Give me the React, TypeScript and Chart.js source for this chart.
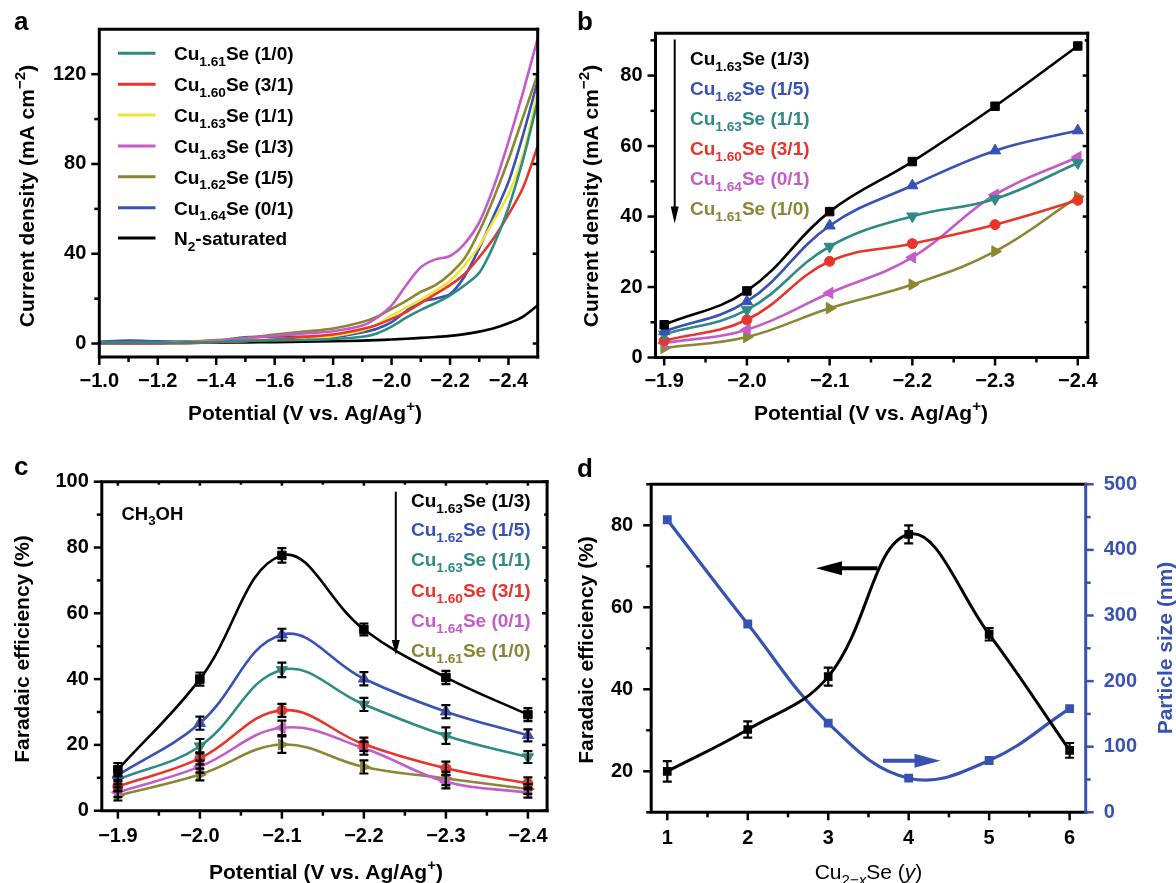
import React, { useEffect, useRef } from 'react';
import { Chart, registerables } from 'chart.js';
Chart.register(...registerables);

const FONT = '"Liberation Sans", Arial, Helvetica, sans-serif';

const COL = {
  teal: '#2E8A84', red: '#E8352B', yellow: '#F3E333', magenta: '#C55BC9',
  olive: '#8B8634', blue: '#3752B5', black: '#000000',
};

// ---------------- Panel a (LSV) ----------------
const aPotential = [-1.0, -1.1, -1.2, -1.3, -1.4, -1.5, -1.6, -1.7, -1.8, -1.9, -1.95, -2.0, -2.05, -2.1, -2.15, -2.2, -2.25, -2.3, -2.35, -2.4, -2.45, -2.5];
const aCu161_10 = [0.5, 0.6, 0.5, 0.5, 0.8, 1.3, 1.4, 1.6, 2.0, 3.0, 4.5, 7.5, 11.5, 15, 18, 21.5, 26, 31.5, 44, 60.5, 82, 108];
const aCu160_31 = [0.2, 0.2, 0.1, 0.2, 0.5, 1.0, 1.8, 3.0, 4.0, 6.5, 8.3, 11, 14, 18, 22, 26, 31, 38.5, 47, 57.5, 69.5, 88];
const aCu163_11 = [0.5, 0.5, 0.5, 0.6, 0.8, 1.2, 2.0, 2.5, 3.3, 5.8, 8.5, 12.5, 16, 19.5, 23.5, 28, 35, 43.5, 55, 66.5, 84, 112];
const aCu163_13 = [0.5, 0.5, 0.5, 0.6, 1.2, 2.2, 3.5, 4.5, 5.5, 8.0, 11.5, 17, 26, 34, 37.5, 39, 44.5, 54, 70, 90, 112, 136];
const aCu162_15 = [0.6, 0.6, 0.6, 0.8, 1.5, 2.5, 4.0, 5.3, 6.7, 9.6, 12, 15.5, 19, 23, 26, 31, 38, 50, 65, 82, 101, 120];
const aCu164_01 = [0.8, 1.3, 1.0, 0.9, 1.2, 2.8, 3.0, 3.0, 2.8, 5.0, 6.6, 9.5, 14.5, 18.7, 20, 22, 30, 42.5, 57, 72, 93, 117];
const aN2 = [0.2, 0.2, 0.2, 0.3, 0.4, 0.5, 0.6, 0.8, 1.0, 1.3, 1.5, 1.8, 2.1, 2.5, 2.9, 3.4, 4.2, 5.3, 6.8, 9, 12, 17];
const aNames = ['Cu_{1.61}Se (1/0)', 'Cu_{1.60}Se (3/1)', 'Cu_{1.63}Se (1/1)', 'Cu_{1.63}Se (1/3)', 'Cu_{1.62}Se (1/5)', 'Cu_{1.64}Se (0/1)', 'N_{2}-saturated'];
const aXTicks = [-1.0, -1.2, -1.4, -1.6, -1.8, -2.0, -2.2, -2.4];
const aXMinor = [-1.1, -1.3, -1.5, -1.7, -1.9, -2.1, -2.3];
const aYTicks = [0, 40, 80, 120];
const aYMinor = [20, 60, 100];

// ---------------- Panel b (current density) ----------------
const bPotential = [-1.9, -2.0, -2.1, -2.2, -2.3, -2.4];
const bCu163_13 = [9.3, 18.9, 41.4, 55.6, 71.3, 88.4];
const bCu162_15 = [7.4, 15.9, 37.4, 48.8, 58.7, 64.4];
const bCu163_11 = [6.6, 13.5, 31.5, 40.1, 45.0, 55.2];
const bCu160_31 = [4.8, 10.7, 27.3, 32.3, 37.7, 44.6];
const bCu164_01 = [4.1, 7.9, 18.3, 28.4, 46.2, 56.9];
const bCu161_10 = [2.7, 5.8, 14.0, 20.7, 30.1, 45.6];
const bNames = ['Cu_{1.63}Se (1/3)', 'Cu_{1.62}Se (1/5)', 'Cu_{1.63}Se (1/1)', 'Cu_{1.60}Se (3/1)', 'Cu_{1.64}Se (0/1)', 'Cu_{1.61}Se (1/0)'];
const bXTicks = [-1.9, -2.0, -2.1, -2.2, -2.3, -2.4];
const bXMinor = [-1.95, -2.05, -2.15, -2.25, -2.35];
const bYTicks = [0, 20, 40, 60, 80];
const bYMinor = [10, 30, 50, 70, 90];

// ---------------- Panel c (Faradaic efficiency CH3OH) ----------------
const cPotential = [-1.9, -2.0, -2.1, -2.2, -2.3, -2.4];
const cCu163_13 = [12.5, 40.0, 77.6, 55.1, 40.5, 29.2];
const cCu162_15 = [10.8, 26.6, 53.5, 40.1, 30.1, 22.9];
const cCu163_11 = [9.5, 19.6, 42.8, 32.3, 22.8, 16.3];
const cCu160_31 = [7.4, 15.9, 30.5, 20.2, 12.9, 8.3];
const cCu164_01 = [5.6, 13.4, 25.2, 19.0, 8.8, 5.5];
const cCu161_10 = [4.6, 11.0, 20.1, 13.3, 9.8, 6.6];
const cErr13 = [2.0, 2.0, 2.2, 1.8, 2.0, 2.0];
const cErr15 = [1.5, 2.0, 1.8, 2.0, 2.0, 1.8];
const cErr11 = [1.5, 2.2, 2.2, 2.0, 2.5, 1.8];
const cErr31 = [1.5, 1.8, 2.0, 2.0, 2.0, 1.8];
const cErr01 = [1.5, 1.8, 2.2, 2.0, 2.0, 1.5];
const cErr10 = [1.5, 1.8, 2.5, 2.0, 2.0, 1.5];
const cXTicks = [-1.9, -2.0, -2.1, -2.2, -2.3, -2.4];
const cXMinor = [-1.95, -2.05, -2.15, -2.25, -2.35];
const cYTicks = [0, 20, 40, 60, 80, 100];
const cYMinor = [10, 30, 50, 70, 90];

// ---------------- Panel d ----------------
const dY = [1, 2, 3, 4, 5, 6];
const dFE = [20.0, 30.2, 43.1, 77.8, 53.4, 25.1];
const dFEErr = [2.5, 2.0, 2.2, 2.2, 1.5, 1.8];
const dSize = [446, 287, 136, 52, 79, 158];
const dXTicks = [1, 2, 3, 4, 5, 6];
const dXMinor = [1.5, 2.5, 3.5, 4.5, 5.5];
const dYTicks = [20, 40, 60, 80];
const dYMinor = [10, 30, 50, 70, 90];
const dRTicks = [0, 100, 200, 300, 400, 500];
const dRMinor = [50, 150, 250, 350, 450];

// ---------------- helpers ----------------
type Seg = { t: string; sub?: boolean; sup?: boolean; it?: boolean };

function parseRich(s: string): Seg[] {
  const out: Seg[] = [];
  const re = /(_\{[^}]*\}|\^\{[^}]*\})/g;
  let last = 0;
  let m: RegExpExecArray | null;
  while ((m = re.exec(s))) {
    if (m.index > last) out.push({ t: s.slice(last, m.index) });
    const tok = m[0];
    if (tok[0] === '_') out.push({ t: tok.slice(2, -1), sub: true });
    else out.push({ t: tok.slice(2, -1), sup: true });
    last = m.index + tok.length;
  }
  if (last < s.length) out.push({ t: s.slice(last) });
  return out;
}

function drawRich(ctx: CanvasRenderingContext2D, segs: Seg[], x: number, yMid: number, size: number,
  o: { align?: string; weight?: string; color?: string; rot?: number } = {}) {
  const weight = o.weight || 'bold';
  const small = size * 0.72;
  const fontOf = (sg: Seg) => `${sg.it ? 'italic ' : ''}${weight} ${sg.sub || sg.sup ? small : size}px ${FONT}`;
  let w = 0;
  const widths = segs.map((sg) => { ctx.font = fontOf(sg); const mw = ctx.measureText(sg.t).width; w += mw; return mw; });
  ctx.save();
  ctx.translate(x, yMid);
  if (o.rot) ctx.rotate(o.rot);
  let cx = o.align === 'center' ? -w / 2 : o.align === 'right' ? -w : 0;
  const base = size * 0.36;
  ctx.fillStyle = o.color || '#000';
  ctx.textBaseline = 'alphabetic';
  ctx.textAlign = 'left';
  segs.forEach((sg, i) => {
    ctx.font = fontOf(sg);
    const dy = sg.sub ? size * 0.3 : sg.sup ? -size * 0.42 : 0;
    ctx.fillText(sg.t, cx, base + dy);
    cx += widths[i];
  });
  ctx.restore();
}

function drawArrow(ctx: CanvasRenderingContext2D, x1: number, y1: number, x2: number, y2: number,
  color: string, lw: number, headLen: number, headHalf: number) {
  const ang = Math.atan2(y2 - y1, x2 - x1);
  const bx = x2 - Math.cos(ang) * headLen;
  const by = y2 - Math.sin(ang) * headLen;
  ctx.save();
  ctx.strokeStyle = color; ctx.fillStyle = color; ctx.lineWidth = lw;
  ctx.beginPath(); ctx.moveTo(x1, y1); ctx.lineTo(bx + Math.cos(ang) * 2, by + Math.sin(ang) * 2); ctx.stroke();
  ctx.beginPath();
  ctx.moveTo(x2, y2);
  ctx.lineTo(bx - Math.sin(ang) * headHalf, by + Math.cos(ang) * headHalf);
  ctx.lineTo(bx + Math.sin(ang) * headHalf, by - Math.cos(ang) * headHalf);
  ctx.closePath(); ctx.fill();
  ctx.restore();
}

function tickMarks(chart: any, scaleId: string, edge: string, major: number[], minor: number[], outward: boolean, color = '#000', majLen = 8, minLen = 5) {
  const ctx: CanvasRenderingContext2D = chart.ctx;
  const sc = chart.scales[scaleId];
  const a = chart.chartArea;
  ctx.save();
  ctx.strokeStyle = color; ctx.lineWidth = 2.5;
  const draw = (vals: number[], len: number) => vals.forEach((v) => {
    const p = sc.getPixelForValue(v);
    const d = outward ? len : -len;
    ctx.beginPath();
    if (edge === 'bottom') { ctx.moveTo(p, a.bottom); ctx.lineTo(p, a.bottom + d); }
    else if (edge === 'top') { ctx.moveTo(p, a.top); ctx.lineTo(p, a.top - d); }
    else if (edge === 'left') { ctx.moveTo(a.left, p); ctx.lineTo(a.left - d, p); }
    else { ctx.moveTo(a.right, p); ctx.lineTo(a.right + d, p); }
    ctx.stroke();
  });
  draw(major, majLen); draw(minor, minLen);
  ctx.restore();
}

function frame(chart: any, rightColor = '#000') {
  const ctx: CanvasRenderingContext2D = chart.ctx;
  const a = chart.chartArea;
  ctx.save();
  ctx.lineWidth = 3; ctx.strokeStyle = '#000'; ctx.lineCap = 'square';
  ctx.beginPath();
  ctx.moveTo(a.right, a.top); ctx.lineTo(a.left, a.top); ctx.lineTo(a.left, a.bottom); ctx.lineTo(a.right, a.bottom);
  ctx.stroke();
  ctx.strokeStyle = rightColor;
  ctx.beginPath(); ctx.moveTo(a.right, a.top); ctx.lineTo(a.right, a.bottom); ctx.stroke();
  ctx.restore();
}

function errorBars(chart: any, errs: (number[] | null)[]) {
  const ctx: CanvasRenderingContext2D = chart.ctx;
  const xs = chart.scales.x;
  ctx.save();
  ctx.strokeStyle = '#000'; ctx.lineWidth = 2.2;
  chart.data.datasets.forEach((ds: any, i: number) => {
    const e = errs[i];
    if (!e) return;
    const ys = chart.scales[ds.yAxisID || 'y'];
    ds.data.forEach((pt: any, j: number) => {
      const px = xs.getPixelForValue(pt.x);
      const y1 = ys.getPixelForValue(pt.y - e[j]);
      const y2 = ys.getPixelForValue(pt.y + e[j]);
      ctx.beginPath();
      ctx.moveTo(px, y1); ctx.lineTo(px, y2);
      ctx.moveTo(px - 4.5, y1); ctx.lineTo(px + 4.5, y1);
      ctx.moveTo(px - 4.5, y2); ctx.lineTo(px + 4.5, y2);
      ctx.stroke();
    });
  });
  ctx.restore();
}

const fmtPot = (v: number) => (v < 0 ? '\u2212' : '') + Math.abs(v).toFixed(1);
const fmtInt = (v: number) => String(Math.round(v));

function axis(o: { min: number; max: number; ticks: number[]; horiz: boolean; size: number; pad: number; reverse?: boolean; position?: string; color?: string; fmt?: (v: number) => string }) {
  return {
    type: 'linear', min: o.min, max: o.max, reverse: !!o.reverse, position: o.position,
    afterBuildTicks: (s: any) => { s.ticks = o.ticks.map((v) => ({ value: v })); },
    afterFit: (s: any) => { if (o.horiz) s.height = o.size; else s.width = o.size; },
    grid: { display: false, drawTicks: false },
    border: { display: false },
    ticks: {
      padding: o.pad, color: o.color || '#000', autoSkip: false, maxRotation: 0, minRotation: 0,
      font: { family: FONT, size: 20, weight: 'bold' },
      callback: (v: any) => (o.fmt || fmtInt)(Number(v)),
    },
  };
}

function pts(xs: number[], ys: number[]) { return xs.map((x, i) => ({ x, y: ys[i] })); }

function baseOptions(padding: any, scales: any) {
  return {
    responsive: false, animation: false, devicePixelRatio: 1, events: [],
    layout: { padding },
    plugins: { legend: { display: false }, tooltip: { enabled: false } },
    scales,
  };
}

const potTitle: Seg[] = [{ t: 'Potential (V vs. Ag/Ag' }, { t: '+', sup: true }, { t: ')' }];
const cdTitle: Seg[] = [{ t: 'Current density (mA cm' }, { t: '\u22122', sup: true }, { t: ')' }];
const feTitle: Seg[] = [{ t: 'Faradaic efficiency (%)' }];

function letter(ctx: CanvasRenderingContext2D, s: string, x: number, y: number) {
  ctx.save(); ctx.font = `bold 26px ${FONT}`; ctx.fillStyle = '#000'; ctx.textBaseline = 'alphabetic'; ctx.fillText(s, x, y); ctx.restore();
}

const markerStyles = [
  { pointStyle: 'rect', pointRotation: 0, pointRadius: 6 },
  { pointStyle: 'triangle', pointRotation: 0, pointRadius: 6.5 },
  { pointStyle: 'triangle', pointRotation: 180, pointRadius: 6.5 },
  { pointStyle: 'circle', pointRotation: 0, pointRadius: 5 },
  { pointStyle: 'triangle', pointRotation: 270, pointRadius: 6.5 },
  { pointStyle: 'triangle', pointRotation: 90, pointRadius: 6.5 },
];
const bcColors = [COL.black, COL.blue, COL.teal, COL.red, COL.magenta, COL.olive];

function configA() {
  const series = [aCu161_10, aCu160_31, aCu163_11, aCu163_13, aCu162_15, aCu164_01, aN2];
  const colors = [COL.teal, COL.red, COL.yellow, COL.magenta, COL.olive, COL.blue, COL.black];
  const rows = [53.3, 84.3, 115, 146, 176.7, 207.7, 238];
  return {
    type: 'line',
    data: {
      datasets: series.map((s, i) => ({
        label: aNames[i].replace(/[_{}]/g, ''), data: pts(aPotential, s), borderColor: colors[i],
        borderWidth: 2.6, pointRadius: 0, tension: 0.3, fill: false,
      })),
    },
    options: baseOptions({ left: 39.3, right: 1176 - 537.7, top: 29.3, bottom: 883 - 357 - 40 }, {
      x: axis({ min: -2.5, max: -1.0, reverse: true, ticks: aXTicks, horiz: true, size: 40, pad: 12, fmt: fmtPot }),
      y: axis({ min: -6, max: 140, ticks: aYTicks, horiz: false, size: 60, pad: 13 }),
    }),
    plugins: [{
      id: 'decoA',
      afterDraw(chart: any) {
        const ctx = chart.ctx;
        tickMarks(chart, 'x', 'bottom', aXTicks, aXMinor, true);
        tickMarks(chart, 'y', 'left', aYTicks, aYMinor, true);
        tickMarks(chart, 'y', 'right', aYTicks, [], false, '#000', 5, 3);
        frame(chart);
        rows.forEach((y, i) => {
          ctx.save(); ctx.strokeStyle = colors[i]; ctx.lineWidth = 3;
          ctx.beginPath(); ctx.moveTo(118, y); ctx.lineTo(155.5, y); ctx.stroke(); ctx.restore();
          drawRich(ctx, parseRich(aNames[i]), 174, y, 19);
        });
        drawRich(ctx, potTitle, 305, 412, 21, { align: 'center' });
        drawRich(ctx, cdTitle, 26, 196, 21, { align: 'center', rot: -Math.PI / 2 });
        letter(ctx, 'a', 14, 30);
      },
    }],
  };
}

function configB() {
  const series = [bCu163_13, bCu162_15, bCu163_11, bCu160_31, bCu164_01, bCu161_10];
  const rows = [58.3, 88.3, 118, 148, 178, 208.5];
  return {
    type: 'line',
    data: {
      datasets: series.map((s, i) => ({
        label: bNames[i].replace(/[_{}]/g, ''), data: pts(bPotential, s), borderColor: bcColors[i],
        backgroundColor: bcColors[i], pointBackgroundColor: bcColors[i], pointBorderColor: bcColors[i],
        pointBorderWidth: 1, borderWidth: 2.6, tension: 0.4, fill: false, ...markerStyles[i],
      })),
    },
    options: baseOptions({ left: 655.5 - 60, right: 1176 - 1087.7, top: 33.3, bottom: 883 - 357.5 - 40 }, {
      x: axis({ min: -2.412, max: -1.8895, reverse: true, ticks: bXTicks, horiz: true, size: 40, pad: 11.5, fmt: fmtPot }),
      y: axis({ min: 0, max: 92, ticks: bYTicks, horiz: false, size: 60, pad: 13 }),
    }),
    plugins: [{
      id: 'decoB',
      afterDraw(chart: any) {
        const ctx = chart.ctx;
        tickMarks(chart, 'x', 'bottom', bXTicks, bXMinor, true);
        tickMarks(chart, 'y', 'left', bYTicks, bYMinor, true);
        tickMarks(chart, 'y', 'right', bYTicks, bYMinor, false, '#000', 5, 3);
        frame(chart);
        rows.forEach((y, i) => drawRich(ctx, parseRich(bNames[i]), 690, y, 19, { color: bcColors[i] }));
        drawArrow(ctx, 674.7, 39.5, 674.7, 223.5, '#000', 2, 17, 4);
        drawRich(ctx, potTitle, 871, 412, 21, { align: 'center' });
        drawRich(ctx, cdTitle, 590, 196, 21, { align: 'center', rot: -Math.PI / 2 });
        letter(ctx, 'b', 577, 30);
      },
    }],
  };
}

function configC() {
  const series = [cCu163_13, cCu162_15, cCu163_11, cCu160_31, cCu164_01, cCu161_10];
  const errs = [cErr13, cErr15, cErr11, cErr31, cErr01, cErr10];
  const rows = [500, 529.5, 559.5, 590, 620, 650];
  return {
    type: 'line',
    data: {
      datasets: series.map((s, i) => ({
        label: bNames[i].replace(/[_{}]/g, ''), data: pts(cPotential, s), borderColor: bcColors[i],
        backgroundColor: bcColors[i], pointBackgroundColor: bcColors[i], pointBorderColor: bcColors[i],
        pointBorderWidth: 1, borderWidth: 2.6, tension: 0.4, fill: false, ...markerStyles[i],
      })),
    },
    options: baseOptions({ left: 101.8 - 60, right: 1176 - 547.1, top: 481.7, bottom: 883 - 810.7 - 40 }, {
      x: axis({ min: -2.4234, max: -1.8804, reverse: true, ticks: cXTicks, horiz: true, size: 40, pad: 14, fmt: fmtPot }),
      y: axis({ min: 0, max: 100, ticks: cYTicks, horiz: false, size: 60, pad: 13 }),
    }),
    plugins: [{
      id: 'decoC',
      afterDatasetsDraw(chart: any) { errorBars(chart, errs); },
      afterDraw(chart: any) {
        const ctx = chart.ctx;
        tickMarks(chart, 'x', 'bottom', cXTicks, cXMinor, true);
        tickMarks(chart, 'x', 'top', cXTicks, cXMinor, false, '#000', 4, 3);
        tickMarks(chart, 'y', 'left', cYTicks, cYMinor, true);
        tickMarks(chart, 'y', 'right', cYTicks, cYMinor, false, '#000', 5, 3);
        frame(chart);
        rows.forEach((y, i) => drawRich(ctx, parseRich(bNames[i]), 411, y, 19, { color: bcColors[i] }));
        drawArrow(ctx, 395.8, 491.7, 395.8, 655, '#000', 2, 15, 4);
        drawRich(ctx, [{ t: 'CH' }, { t: '3', sub: true }, { t: 'OH' }], 121.5, 513, 18.5);
        drawRich(ctx, potTitle, 326, 871.5, 21, { align: 'center' });
        drawRich(ctx, feTitle, 21.5, 649, 21, { align: 'center', rot: -Math.PI / 2 });
        letter(ctx, 'c', 14, 475);
      },
    }],
  };
}

function configD() {
  return {
    type: 'line',
    data: {
      datasets: [
        {
          label: 'Faradaic efficiency', data: pts(dY, dFE), yAxisID: 'y', borderColor: COL.black,
          backgroundColor: COL.black, pointBackgroundColor: COL.black, pointBorderColor: COL.black,
          pointStyle: 'rect', pointRadius: 4, borderWidth: 3, tension: 0.4, fill: false,
        },
        {
          label: 'Particle size', data: pts(dY, dSize), yAxisID: 'y1', borderColor: '#3752B0',
          backgroundColor: '#3752B0', pointBackgroundColor: '#3752B0', pointBorderColor: '#3752B0',
          pointStyle: 'rect', pointRadius: 4, borderWidth: 3.2, tension: 0.4, fill: false,
        },
      ],
    },
    options: baseOptions({ left: 651.2 - 60, right: 1176 - 1085.7 - 60, top: 484.3, bottom: 883 - 812.3 - 40 }, {
      x: axis({ min: 0.8, max: 6.2, ticks: dXTicks, horiz: true, size: 40, pad: 14 }),
      y: axis({ min: 10, max: 90, ticks: dYTicks, horiz: false, size: 60, pad: 18, position: 'left' }),
      y1: axis({ min: 0, max: 500, ticks: dRTicks, horiz: false, size: 60, pad: 18, position: 'right', color: '#3752B0' }),
    }),
    plugins: [{
      id: 'decoD',
      afterDatasetsDraw(chart: any) { errorBars(chart, [dFEErr, null]); },
      afterDraw(chart: any) {
        const ctx = chart.ctx;
        tickMarks(chart, 'x', 'bottom', dXTicks, dXMinor, true);
        tickMarks(chart, 'y', 'left', dYTicks, dYMinor, true);
        tickMarks(chart, 'y1', 'right', dRTicks, dRMinor, true, '#3752B0');
        frame(chart, '#3752B0');
        drawArrow(ctx, 877.5, 568.3, 816, 568.3, '#000', 4, 26, 7);
        drawArrow(ctx, 883, 760.7, 940.5, 760.7, '#3752B0', 4, 26, 7);
        drawRich(ctx, [{ t: 'Cu' }, { t: '2\u2212', sub: true }, { t: 'x', sub: true, it: true }, { t: 'Se (' }, { t: 'y', it: true }, { t: ')' }],
          868.5, 871.5, 21, { align: 'center', weight: 'normal' });
        drawRich(ctx, feTitle, 585.5, 650, 21, { align: 'center', rot: -Math.PI / 2 });
        drawRich(ctx, [{ t: 'Particle size (nm)' }], 1164, 648, 21, { align: 'center', rot: -Math.PI / 2, color: '#3752B0' });
        letter(ctx, 'd', 577, 477);
      },
    }],
  };
}

export default function App() {
  const refA = useRef<HTMLCanvasElement | null>(null);
  const refB = useRef<HTMLCanvasElement | null>(null);
  const refC = useRef<HTMLCanvasElement | null>(null);
  const refD = useRef<HTMLCanvasElement | null>(null);

  useEffect(() => {
    const charts = [
      new Chart(refA.current as any, configA() as any),
      new Chart(refB.current as any, configB() as any),
      new Chart(refC.current as any, configC() as any),
      new Chart(refD.current as any, configD() as any),
    ];
    return () => charts.forEach((c) => c.destroy());
  }, []);

  const cs: React.CSSProperties = { position: 'absolute', left: 0, top: 0, width: 1176, height: 883 };
  return (
    <div style={{ position: 'absolute', left: 0, top: 0, width: 1176, height: 883, background: '#fff', overflow: 'hidden' }}>
      <canvas ref={refA} width={1176} height={883} style={cs} />
      <canvas ref={refB} width={1176} height={883} style={cs} />
      <canvas ref={refC} width={1176} height={883} style={cs} />
      <canvas ref={refD} width={1176} height={883} style={cs} />
    </div>
  );
}
